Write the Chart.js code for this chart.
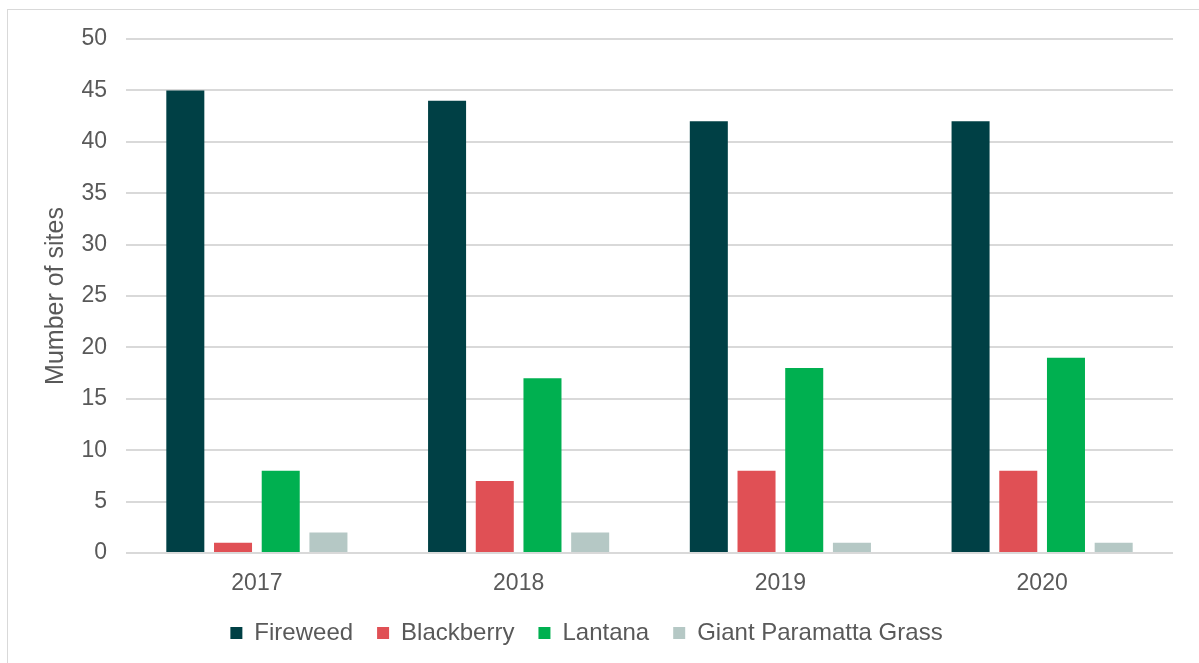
<!DOCTYPE html>
<html>
<head>
<meta charset="utf-8">
<script src="https://cdn.jsdelivr.net/npm/chart.js@4/dist/chart.umd.min.js"></script>
<style>
  html, body { margin: 0; padding: 0; background: #fff; }
  #frame {
    position: absolute; left: 7px; top: 9px; width: 1250px; height: 700px;
    border: 1px solid #d9d9d9; box-sizing: border-box;
  }
  #wrap { position: absolute; left: 0; top: 0; width: 1199px; height: 663px; }
</style>
</head>
<body>
<div id="frame"></div>
<div id="wrap"><canvas id="chart" width="1199" height="663"></canvas></div>
<script>
const years = ['2017', '2018', '2019', '2020'];
const fireweed = [45, 44, 42, 42];
const blackberry = [1, 7, 8, 8];
const lantana = [8, 17, 18, 19];
const paramattaGrass = [2, 2, 1, 1];

const textColor = '#595959';
const fontFamily = '"Liberation Sans", Arial, sans-serif';

function makeSet(label, data, colour) {
    return {
        label: label,
        data: data,
        backgroundColor: colour,
        borderWidth: 0,
        categoryPercentage: 0.729,
        barPercentage: 0.797
    };
}

const ctx = document.getElementById('chart').getContext('2d');
const myChart = new Chart(ctx, {
    type: 'bar',
    data: {
        labels: years,
        datasets: [
            makeSet('Fireweed', fireweed, '#004045'),
            makeSet('Blackberry', blackberry, '#e05055'),
            makeSet('Lantana', lantana, '#00b050'),
            makeSet('Giant Paramatta Grass', paramattaGrass, '#b5c8c5')
        ]
    },
    options: {
        responsive: false,
        animation: false,
        layout: { padding: { left: 0, top: 39, right: 26, bottom: 8 } },
        plugins: {
            tooltip: { enabled: false },
            legend: {
                position: 'bottom',
                labels: {
                    color: textColor,
                    font: { family: fontFamily, size: 24 },
                    boxWidth: 12,
                    boxHeight: 12,
                    padding: 24
                }
            }
        },
        scales: {
            x: {
                grid: { display: false, drawTicks: false },
                border: { display: false },
                ticks: { color: textColor, font: { family: fontFamily, size: 23 }, padding: 17 },
                afterFit: function (axis) { axis.height = 44; }
            },
            y: {
                min: 0,
                max: 50,
                ticks: { stepSize: 5, color: textColor, font: { family: fontFamily, size: 23 }, padding: 19 },
                grid: { color: '#d9d9d9', lineWidth: 2, drawTicks: false },
                border: { display: false },
                title: {
                    display: true,
                    text: 'Mumber of sites',
                    color: textColor,
                    font: { family: fontFamily, size: 25 },
                    padding: { top: 41, bottom: 0 }
                },
                afterFit: function (axis) { axis.width = 126; }
            }
        }
    }
});
</script>
</body>
</html>
